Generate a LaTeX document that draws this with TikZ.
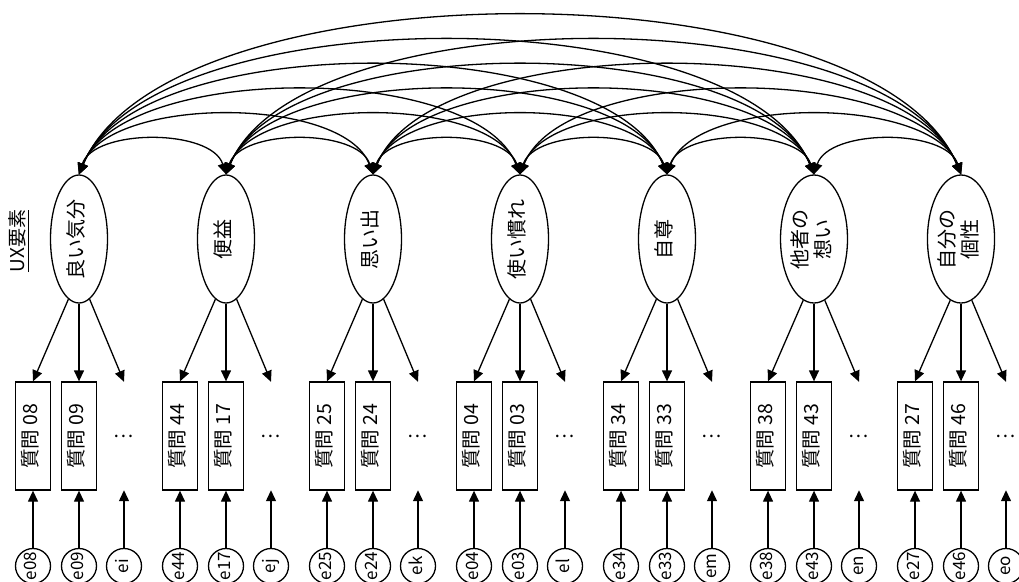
\documentclass[tikz,border=0pt]{standalone}
\usepackage{fontspec}
\setmainfont{Noto Sans CJK JP}
\usepackage{graphicx}
\usepackage{tikz}
\usetikzlibrary{arrows.meta,shapes.geometric}

\newcommand{\vlabel}[1]{\rotatebox{90}{\begin{tabular}{@{}c@{}}#1\end{tabular}}}

\begin{document}
\begin{tikzpicture}[x=1pt, y=-1pt,
  factor/.style={draw, ellipse, line width=1.3pt, minimum width=57pt,
    minimum height=128pt, inner sep=0pt, font=\fontsize{20}{23}\selectfont},
  item/.style={draw, line width=1.3pt, minimum width=35pt, minimum height=108pt,
    inner sep=0pt, font=\fontsize{19.5}{22}\selectfont},
  more/.style={minimum width=35pt, minimum height=108pt, inner sep=0pt,
    font=\fontsize{19}{22}\selectfont},
  err/.style={draw, circle, line width=1.3pt, minimum size=35pt, inner sep=0pt,
    font=\fontsize{17}{20}\selectfont},
  arrow/.style={-{Triangle[length=11pt, width=10pt]}, line width=1.3pt},
  corr/.style={{Triangle[length=11pt, width=10pt]}-{Triangle[length=11pt, width=10pt]},
    line width=1.3pt}
]
\useasboundingbox (0,0) rectangle (1019,581);
\clip (0,0) rectangle (1019,581);

% Title
\node[font=\fontsize{19}{24}\selectfont] (ux) at (20,241) {\vlabel{\underline{UX要素}}};

% Factors, items and errors
\foreach \i/\name/\qa/\qb/\ec in {1/良い気分/08/09/ei, 2/便益/44/17/ej,
    3/思い出/25/24/ek, 4/使い慣れ/04/03/el, 5/自尊/34/33/em,
    6/{他者の\\想い}/38/43/en, 7/{自分の\\個性}/27/46/eo} {
  \pgfmathsetmacro\cx{79+(\i-1)*147}
  \node[factor] (L\i) at (\cx,239) {\vlabel{\name}};
  \node[item] (Q\i-a) at (\cx-46,436) {\vlabel{質問 \qa}};
  \node[item] (Q\i-b) at (\cx,436) {\vlabel{質問 \qb}};
  \node[more] (Q\i-c) at (\cx+45,436) {…};
  \node[err] (E\i-a) at (\cx-46,566) {\vlabel{e\qa}};
  \node[err] (E\i-b) at (\cx,566) {\vlabel{e\qb}};
  \node[err] (E\i-c) at (\cx+45,566) {\vlabel{\ec}};
  \draw[arrow] (L\i.260) -- (Q\i-a.north);
  \draw[arrow] (L\i.south) -- (Q\i-b.north);
  \draw[arrow] (L\i.280) -- (Q\i-c.north);
  \foreach \s in {a,b,c}
    \draw[arrow] (E\i-\s) -- (Q\i-\s);
}

% Correlations
\foreach \i in {1,...,6} {
  \pgfmathtruncatemacro\nxt{\i+1}
  \foreach \j in {\nxt,...,7} {
    \pgfmathsetmacro\dx{14.7*(\j-\i)}
    \pgfmathsetmacro\dy{33*(\j-\i)+13}
    \draw[corr] (L\i.north) .. controls +(\dx,-\dy) and +(-\dx,-\dy) .. (L\j.north);
  }
}

\end{tikzpicture}
\end{document}
